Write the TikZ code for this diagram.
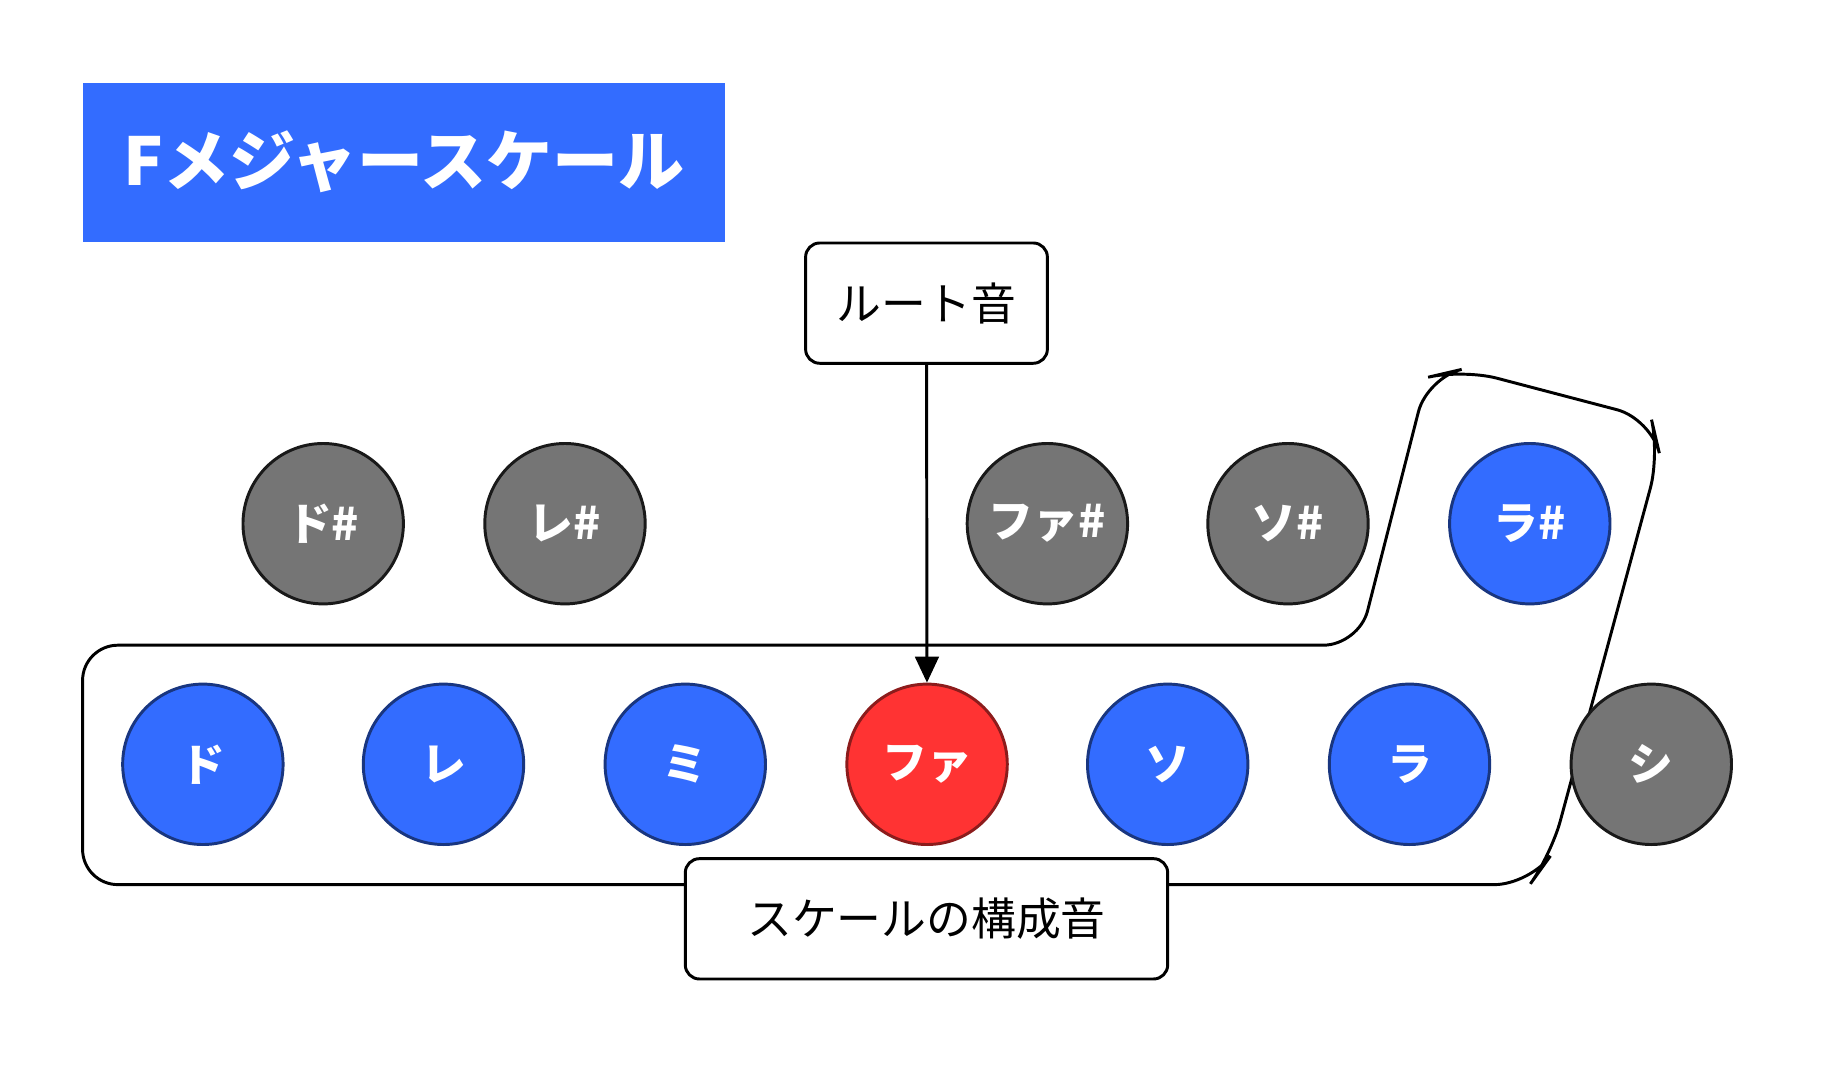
\documentclass[tikz,border=0pt]{standalone}
\usepackage{fontspec}
\setmainfont{Noto Sans CJK JP}
\usetikzlibrary{arrows.meta}
\definecolor{nblue}{HTML}{336CFF}
\definecolor{ngray}{HTML}{757575}
\definecolor{nred}{HTML}{FF3333}
\tikzset{
 note/.style={circle,minimum size=136pt,inner sep=0pt,line width=2.5pt,text=white,font=\fontsize{38}{40}\selectfont\bfseries},
 sc/.style={note,fill=nblue,draw=nblue!50!black},
 off/.style={note,fill=ngray,draw=black!90},
 rt/.style={note,fill=nred,draw=nred!55!black},
 lbl/.style={draw,line width=2.5pt,rounded corners=12pt,fill=white,font=\fontsize{38}{40}\selectfont,inner sep=0pt}
}
\begin{document}
\begin{tikzpicture}[x=1pt,y=-1pt]
\useasboundingbox (0,0) rectangle (1560,916);
\node[fill=nblue,minimum width=545pt,minimum height=135pt,text=white,font=\fontsize{56}{60}\selectfont\bfseries,inner sep=0pt] (title) at (342.5,137.5) {Fメジャースケール};
\draw[line width=2.5pt,rounded corners=30pt] (1152,547) -- (1210,320) -- (1240,313) -- (1400,355) -- (1407,385) -- (1315,725) -- (1297,750) -- (70,750) -- (70,547) -- cycle;
\node[off] (cs) at (274,444) {ド\#};
\node[off] (ds) at (479,444) {レ\#};
\node[off] (fs) at (888,444) {ファ\#};
\node[off] (gs) at (1092,444) {ソ\#};
\node[sc] (as) at (1297,444) {ラ\#};
\node[sc] (c) at (172,648) {ド};
\node[sc] (d) at (376,648) {レ};
\node[sc] (e) at (581,648) {ミ};
\node[rt] (f) at (786,648) {ファ};
\node[sc] (g) at (990,648) {ソ};
\node[sc] (a) at (1195,648) {ラ};
\node[off] (b) at (1400,648) {シ};
\node[lbl,minimum width=205pt,minimum height=102pt] (root) at (785.5,257) {ルート音};
\node[lbl,minimum width=409pt,minimum height=102pt] (scale) at (785.5,779) {スケールの構成音};
\draw[line width=2.5pt,-{Triangle[length=22pt,width=20pt]}] (root) -- (f);
\end{tikzpicture}
\end{document}
